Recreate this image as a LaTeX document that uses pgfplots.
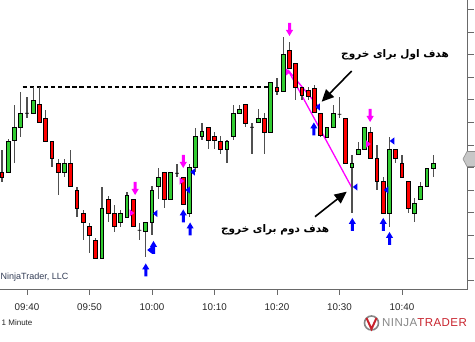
\documentclass[border=0pt]{standalone}
\usepackage{pgfplots}
\pgfplotsset{compat=1.18}
\usepackage{pgfplotstable}
\usepackage{fontspec}
\setmainfont{Liberation Sans}
\newfontfamily\arabicfont[Script=Arabic]{DejaVu Sans}
\newfontfamily\logofont[LetterSpace=4]{Liberation Sans}
\TeXXeTstate=1
\usetikzlibrary{arrows.meta}
\definecolor{cgreen}{RGB}{50,205,50}
\definecolor{cred}{RGB}{255,0,0}
\definecolor{cmag}{RGB}{255,0,255}
\definecolor{cblue}{RGB}{0,0,255}
\definecolor{wickc}{RGB}{80,80,80}
\definecolor{axgray}{RGB}{105,105,105}
\definecolor{njgray}{RGB}{135,135,135}
\definecolor{njred}{RGB}{200,35,45}
\definecolor{copyc}{RGB}{50,60,85}

\pgfdeclareplotmark{candle}{%
  \begin{pgfscope}%
  \pgfsetstrokecolor{wickc}\pgfsetlinewidth{1.1pt}%
  \pgfpathmoveto{\pgfqpoint{0pt}{\wl pt}}%
  \pgfpathlineto{\pgfqpoint{0pt}{\wh pt}}%
  \pgfusepathqstroke
  \end{pgfscope}%
  \pgfsetlinewidth{0.9pt}%
  \pgfpathrectangle{\pgfqpoint{-1.85pt}{0pt}}{\pgfqpoint{3.7pt}{\bh pt}}%
  \pgfusepathqfillstroke
}
\pgfdeclareplotmark{darrow}{%
  \pgfpathmoveto{\pgfqpoint{-1.5pt}{6.5pt}}\pgfpathlineto{\pgfqpoint{1.5pt}{6.5pt}}%
  \pgfpathlineto{\pgfqpoint{1.5pt}{-0.5pt}}\pgfpathlineto{\pgfqpoint{3.6pt}{-0.5pt}}%
  \pgfpathlineto{\pgfqpoint{0pt}{-6.5pt}}\pgfpathlineto{\pgfqpoint{-3.6pt}{-0.5pt}}%
  \pgfpathlineto{\pgfqpoint{-1.5pt}{-0.5pt}}\pgfpathclose\pgfusepathqfill}
\pgfdeclareplotmark{uarrow}{%
  \pgfpathmoveto{\pgfqpoint{-1.5pt}{-6.5pt}}\pgfpathlineto{\pgfqpoint{1.5pt}{-6.5pt}}%
  \pgfpathlineto{\pgfqpoint{1.5pt}{0.5pt}}\pgfpathlineto{\pgfqpoint{3.6pt}{0.5pt}}%
  \pgfpathlineto{\pgfqpoint{0pt}{6.5pt}}\pgfpathlineto{\pgfqpoint{-3.6pt}{0.5pt}}%
  \pgfpathlineto{\pgfqpoint{-1.5pt}{0.5pt}}\pgfpathclose\pgfusepathqfill}
\pgfdeclareplotmark{ltri}{%
  \pgfpathmoveto{\pgfqpoint{-2.3pt}{0pt}}\pgfpathlineto{\pgfqpoint{2.3pt}{3.6pt}}%
  \pgfpathlineto{\pgfqpoint{2.3pt}{-3.6pt}}\pgfpathclose\pgfusepathqfill}
\pgfdeclareplotmark{rtri}{%
  \pgfpathmoveto{\pgfqpoint{2.3pt}{0pt}}\pgfpathlineto{\pgfqpoint{-2.3pt}{3.6pt}}%
  \pgfpathlineto{\pgfqpoint{-2.3pt}{-3.6pt}}\pgfpathclose\pgfusepathqfill}

\pgfplotsset{candlestyle/.style={scatter, only marks, mark=candle,
  visualization depends on={\thisrow{c}-\thisrow{o}\as\bh},
  visualization depends on={\thisrow{h}-\thisrow{o}\as\wh},
  visualization depends on={\thisrow{l}-\thisrow{o}\as\wl}}}

% minutes after 09:40, open, high, low, close
\pgfplotstableread{
t o h l c
-4 128 150 118 123
2 196 213 178 178
3 182 190 159 159
4 159 159 133 142
5 137 141 105 128
7 137 150 114 114
8 110 113 83 92
9 87 90 60 78
10 74 77 47 65
11 60 62 42 42
13 101 104 78 87
14 87 95 68 74
17 101 101 74 74
22 128 128 92 101
25 123 123 96 96
29 173 173 151 160
30 164 168 151 160
31 159 164 146 151
35 196 196 173 177
38 182 187 146 168
40 213 222 205 209
42 250 258 232 232
43 237 237 200 213
44 213 213 200 205
45 210 213 200 204
46 212 215 188 188
47 187 187 163 165
51 182 182 137 137
55 168 173 142 142
56 142 155 110 119
57 119 123 87 87
59 151 151 137 142
60 137 145 123 123
61 119 119 87 92
}\redtab
\pgfplotstableread{
t o h l c
-3 128 161 128 159
-2 160 195 137 173
-1 173 208 163 187
1 187 213 187 200
6 128 141 123 137
12 42 113 42 92
15 78 90 73 87
16 83 108 83 105
19 69 78 43 78
20 78 114 65 110
21 114 132 101 123
23 101 128 101 128
26 87 136 83 133
27 133 172 128 164
28 164 177 160 169
32 151 160 137 159
33 164 195 160 187
34 187 195 187 191
37 178 191 178 182
39 168 218 168 218
41 209 263 209 246
48 163 173 163 173
49 173 195 173 187
52 133 145 87 137
53 146 158 146 151
54 151 173 151 173
58 87 163 73 151
62 87 102 78 97
63 101 118 101 114
64 114 132 114 132
65 132 145 123 137
}\greentab
\pgfplotstableread{
t o h l c
0 187 203 182 187
18 70 77 60 70
24 127 136 123 127
36 173 177 146 173
50 186 203 182 186
}\dojitab

\begin{document}
\begin{tikzpicture}
\useasboundingbox (0pt,0pt) rectangle (475pt,342pt);
\begin{axis}[
  at={(0pt,53pt)}, anchor=south west,
  scale only axis, width=467.5pt, height=289pt,
  xmin=-4.32, xmax=70.48, ymin=11, ymax=300,
  enlargelimits=false,
  axis x line*=bottom, axis y line*=right,
  axis line style={draw=axgray, line width=0.9pt},
  xtick={0,10,20,30,40,50,60},
  xticklabels={09:40,09:50,10:00,10:10,10:20,10:30,10:40},
  ytick={19.4,42,64.6,87.2,109.8,132.4,155,177.6,200.2,222.8,245.4,268,290.6},
  yticklabels={},
  tick align=outside, major tick length=6pt,
  tick style={draw=axgray, line width=0.8pt},
  xticklabel style={font=\fontsize{9.8}{11}\selectfont, text=black!85, yshift=-5pt},
  clip=false,
]
\addplot[black, line width=1.8pt, dash pattern=on 4.3pt off 2.8pt] coordinates {(-0.69,213.3) (39.04,213.3)};
\addplot[candlestyle, scatter/use mapped color={draw=black, fill=cred}] table[x=t, y=o] {\redtab};
\addplot[candlestyle, scatter/use mapped color={draw=black, fill=cgreen}] table[x=t, y=o] {\greentab};
\addplot[candlestyle, scatter/use mapped color={draw=black, fill=black}] table[x=t, y=o] {\dojitab};
\addplot[cmag, line width=1.3pt] coordinates {(41.76,230) (52.0,112)};
\addplot[cmag, line width=1.3pt] coordinates {(41.76,230) (46.56,194)};
\addplot[only marks, mark=darrow, color=cmag] coordinates {(17.3,111.5) (25.0,138.5) (42.0,270.5) (54.9,184.5)};
\addplot[only marks, mark=rtri, color=cmag] coordinates {(16.8,87) (24.8,119) (54.64,156) (41.8,228)};
\addplot[only marks, mark=uarrow, color=cblue] coordinates {(19.0,30) (20.24,52.5) (25.0,84) (26.1,71) (45.9,171) (52.05,75.5) (57.0,75.5) (58.0,61.5)};
\addplot[only marks, mark=ltri, color=cblue] coordinates {(19.6,50) (20.5,86.5) (25.7,110) (26.5,128) (46.5,193) (52.5,113) (57.45,110) (58.4,159)};
\addplot[black, line width=1.6pt, -{Triangle[length=12pt,width=11pt]}] coordinates {(51.95,229) (47.15,198.3)};
\addplot[black, line width=1.6pt, -{Triangle[length=12pt,width=11pt]}] coordinates {(46.08,83.3) (51.15,108.3)};
\node[font=\fontsize{10.5}{12}\selectfont\arabicfont\bfseries] at (axis cs:58.88,245) {\beginR هدف اول برای خروج\endR};
\node[font=\fontsize{10.5}{12}\selectfont\arabicfont\bfseries] at (axis cs:39.7,70) {\beginR هدف دوم برای خروج\endR};
\end{axis}
\filldraw[fill=black!22, draw=black!45, line width=0.6pt] (463pt,183pt) -- (467pt,190.5pt) -- (482pt,190.5pt) -- (482pt,175.5pt) -- (467pt,175.5pt) -- cycle;
\node[anchor=west, inner sep=0pt, font=\fontsize{9}{11}\selectfont, text=copyc] at (0.5pt,65pt) {NinjaTrader, LLC};
\node[anchor=west, inner sep=0pt, font=\fontsize{8}{10}\selectfont, text=black!85] at (1.5pt,19pt) {1 Minute};
\draw[njgray, line width=1.6pt] (371.5pt,19pt) circle (7pt);
\draw[njred, line width=2pt] (366.5pt,24pt) -- (371.5pt,13pt) -- (376.5pt,24pt);
\node[anchor=west, inner sep=0pt, font=\fontsize{11.5}{14}\selectfont\logofont] at (382pt,19pt) {\textcolor{njgray}{NINJA}\textcolor{njred}{TRADER}};
\end{tikzpicture}
\end{document}
